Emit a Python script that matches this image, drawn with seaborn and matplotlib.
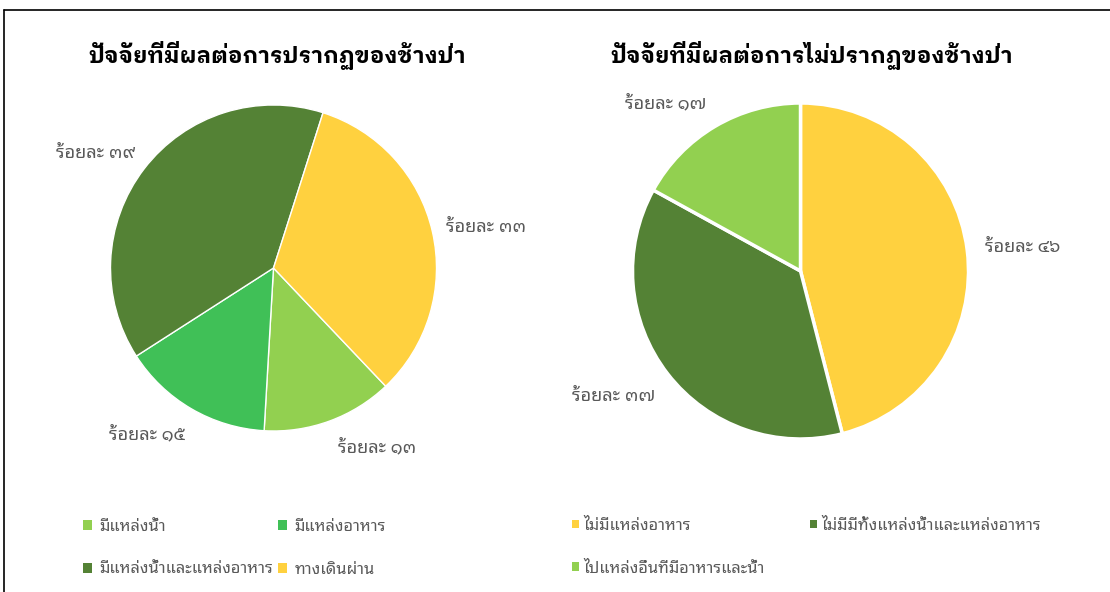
import numpy as np
import matplotlib
matplotlib.use("Agg")
import matplotlib.pyplot as plt
from matplotlib.patches import Patch
from matplotlib.lines import Line2D
import seaborn as sns

sns.set_theme(style="white")
plt.rcParams["font.family"] = ["Noto Sans Thai Looped", "DejaVu Sans"]

# ---- data ----
left_title = "ปัจจัยที่มีผลต่อการปรากฏของช้างป่า"
left_labels = ["มีแหล่งน้ำ", "มีแหล่งอาหาร", "มีแหล่งน้ำและแหล่งอาหาร", "ทางเดินผ่าน"]
left_values = [13, 15, 39, 33]

right_title = "ปัจจัยที่มีผลต่อการไม่ปรากฏของช้างป่า"
right_labels = ["ไม่มีแหล่งอาหาร", "ไม่มีมีทั้งแหล่งน้ำและแหล่งอาหาร", "ไปแหล่งอื่นที่มีอาหารและน้ำ"]
right_values = [46, 37, 17]

label_prefix = "ร้อยละ"

# ---- styling ----
LIGHT_GREEN = "#92D050"
GREEN = "#40C057"
DARK_GREEN = "#548235"
YELLOW = "#FFD13F"
left_colors = [LIGHT_GREEN, GREEN, DARK_GREEN, YELLOW]
right_colors = [YELLOW, DARK_GREEN, LIGHT_GREEN]
TEXT_GREY = "#595959"
TITLE_FONT = ["IBM Plex Sans Thai Looped", "Noto Sans Thai Looped", "DejaVu Sans"]

W, H = 1110, 592
fig = plt.figure(figsize=(W / 100, H / 100), dpi=100)
fig.patch.set_facecolor("white")

THAI_DIGITS = str.maketrans("0123456789", "๐๑๒๓๔๕๖๗๘๙")


def thai_num(v):
    return str(v).translate(THAI_DIGITS)


def pie_axes(cx, cy, radius_px, lim=1.5):
    half = radius_px * lim
    return fig.add_axes([(cx - half) / W, (H - cy - half) / H, 2 * half / W, 2 * half / H])


def draw_pie(ax, values, colors, start, edge_lw, dists, turns, lim=1.5):
    """Pie drawn clockwise; each value label sits outside its wedge at
    radius `dist`, rotated `turn` degrees (clockwise) from the wedge middle."""
    wedges, _ = ax.pie(values, colors=colors, startangle=start, counterclock=False,
                       radius=1.0, wedgeprops=dict(edgecolor="white", linewidth=edge_lw))
    ax.set_xlim(-lim, lim)
    ax.set_ylim(-lim, lim)
    ax.set_aspect("equal")
    ax.axis("off")
    for w, v, d, t in zip(wedges, values, dists, turns):
        mid = np.deg2rad((w.theta1 + w.theta2) / 2 - t)
        ax.text(d * np.cos(mid), d * np.sin(mid), f"{label_prefix} {thai_num(v)}",
                ha="center", va="center", fontsize=13, color=TEXT_GREY)
    return wedges


# left pie
axL = pie_axes(273.5, 268, 163)
draw_pie(axL, left_values, left_colors, -46.5, 1.0,
         [1.27, 1.28, 1.30, 1.33], [-10, 7, -4.7, 2])

# right pie
axR = pie_axes(800.5, 271, 168)
draw_pie(axR, right_values, right_colors, 90, 2.5,
         [1.33, 1.34, 1.28], [1, 4, -8.3])

# titles
fig.text(277 / W, 1 - 55 / H, left_title, ha="center", va="center",
         fontsize=16.2, fontweight="bold", color="black", family=TITLE_FONT)
fig.text(812 / W, 1 - 55 / H, right_title, ha="center", va="center",
         fontsize=16.2, fontweight="bold", color="black", family=TITLE_FONT)


# legends (entries run across rows, so reorder for column filling)
def make_legend(labels, colors, order, x, y, colspace, hsize, pad):
    handles = [Patch(facecolor=colors[i], edgecolor="none", label=labels[i]) for i in order]
    return fig.legend(handles=handles, loc="upper left", bbox_to_anchor=(x / W, 1 - y / H),
                      ncol=2, frameon=False, fontsize=11.8, handlelength=hsize, handleheight=hsize,
                      handletextpad=pad, columnspacing=colspace, labelspacing=1.62,
                      borderpad=0, borderaxespad=0, labelcolor=TEXT_GREY)


make_legend(left_labels, left_colors, [0, 2, 1, 3], 83, 519, 0.28, 0.52, 0.5)
make_legend(right_labels, right_colors, [0, 2, 1], 572, 518, 2.8, 0.42, 0.25)

# outer frame
fig.add_artist(Line2D([4 / W, 1.0], [1 - 9.5 / H, 1 - 9.5 / H], color="black", lw=1.2))
fig.add_artist(Line2D([4 / W, 4 / W], [0.0, 1 - 9.5 / H], color="black", lw=1.2))

fig.savefig("out.png", dpi=100)
